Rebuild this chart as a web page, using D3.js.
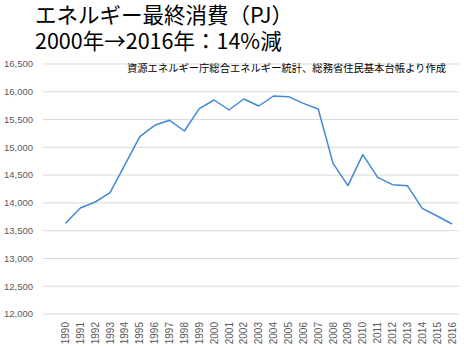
<!DOCTYPE html>
<html><head><meta charset="utf-8">
<script src="https://cdn.jsdelivr.net/npm/d3@7"></script>
<style>body{margin:0;background:#fff;}svg{display:block;}</style>
</head><body><div id="chart"></div>
<script>
const years = ["1990","1991","1992","1993","1994","1995","1996","1997","1998","1999","2000","2001","2002","2003","2004","2005","2006","2007","2008","2009","2010","2011","2012","2013","2014","2015","2016"];
const energyPJ = [13633,13908,14016,14184,14688,15192,15396,15486,15294,15696,15852,15672,15870,15744,15924,15912,15792,15690,14712,14310,14868,14460,14328,14310,13902,13764,13620];
const yTicks = [12000,12500,13000,13500,14000,14500,15000,15500,16000,16500];
const titleLines = ["エネルギー最終消費（PJ）","2000年→2016年：14%減"];
const sourceNote = "資源エネルギー庁総合エネルギー統計、総務省住民基本台帳より作成";

const W = 464, H = 348;
const svg = d3.select("#chart").append("svg").attr("width", W).attr("height", H);
const font = "'Noto Sans CJK JP', 'Noto Sans', sans-serif";
const axisFont = "'Liberation Sans', Arial, sans-serif";

const y = d3.scaleLinear().domain([12000,16500]).range([314,64]);
const x = d3.scalePoint().domain(years).range([65.5,452]);
const gridL = 43, gridR = 459;

// gridlines
svg.append("g").selectAll("line").data(yTicks).join("line")
  .attr("x1", gridL).attr("x2", gridR)
  .attr("y1", d => y(d)).attr("y2", d => y(d))
  .attr("stroke", "#d9d9d9").attr("stroke-width", 1);

// y labels
const fmt = d3.format(",");
svg.append("g").selectAll("text").data(yTicks).join("text")
  .attr("x", 33).attr("y", d => y(d)).attr("dy", "0.35em")
  .attr("text-anchor", "end").attr("font-family", axisFont)
  .attr("font-size", 9.5).attr("fill", "#595959").text(d => fmt(d));

// x labels
svg.append("g").selectAll("text").data(years).join("text")
  .attr("transform", d => `translate(${x(d)},322) rotate(-90)`)
  .attr("text-anchor", "end").attr("dy", "0.35em")
  .attr("font-family", axisFont)
  .attr("font-size", 10).attr("fill", "#595959").text(d => d);

// line
const line = d3.line().x((d,i) => x(years[i])).y(d => y(d));
svg.append("path").datum(energyPJ).attr("d", line)
  .attr("fill", "none").attr("stroke", "#4189d6").attr("stroke-width", 1.5)
  .attr("stroke-linejoin", "round");

// title
svg.append("g").selectAll("text").data(titleLines).join("text")
  .attr("x", 35).attr("y", (d,i) => 23 + i*26)
  .attr("font-family", font).attr("font-size", 21.5).attr("fill", "#000")
  .text(d => d);

svg.append("text").attr("x", 127).attr("y", 72)
  .attr("font-family", font).attr("font-size", 10.3).attr("fill", "#000")
  .text(sourceNote);
</script></body></html>
